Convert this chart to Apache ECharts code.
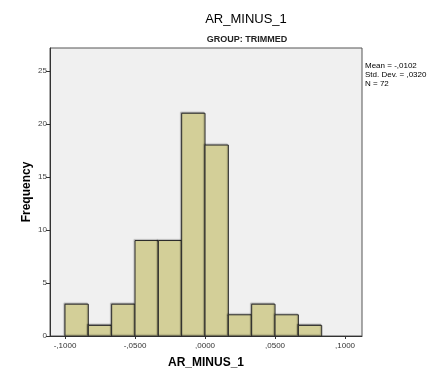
<!DOCTYPE html>
<html><head><meta charset="utf-8">
<script src="https://cdn.jsdelivr.net/npm/echarts@6/dist/echarts.min.js"></script>
<style>html,body{margin:0;padding:0;background:#fff}#c{width:441px;height:374px}</style>
</head><body><div id="c"></div>
<script>
const binStarts = [-0.1, -0.08333, -0.06667, -0.05, -0.03333, -0.01667, 0.0, 0.01667, 0.03333, 0.05, 0.06667];
const binEnds   = [-0.08333, -0.06667, -0.05, -0.03333, -0.01667, 0.0, 0.01667, 0.03333, 0.05, 0.06667, 0.08333];
const counts    = [3, 1, 3, 9, 9, 21, 18, 2, 3, 2, 1];
const xTickValues = [-0.1, -0.05, 0, 0.05, 0.1];
const xTickLabels = ['-,1000', '-,0500', ',0000', ',0500', ',1000'];
const yTickValues = [0, 5, 10, 15, 20, 25];
const statsText = ['Mean = -,0102', 'Std. Dev. = ,0320', 'N = 72'];

const font = 'Liberation Sans, Arial, sans-serif';
const chart = echarts.init(document.getElementById('c'));
const data = counts.map((c, i) => [binStarts[i], binEnds[i], c]);
chart.setOption({
  animation: false,
  title: [
    {text: 'AR_MINUS_1', left: 241, top: 8, textAlign: 'center',
     textStyle: {fontFamily: font, fontSize: 13, fontWeight: 'normal', color: '#000'}},
    {text: 'GROUP: TRIMMED', left: 242, top: 30, textAlign: 'center',
     textStyle: {fontFamily: font, fontSize: 9, fontWeight: 'bold', color: '#222'}}
  ],
  graphic: [{type: 'text', left: 365, top: 61,
    style: {text: statsText.join('\n'), fontFamily: font, fontSize: 8, lineHeight: 9, fill: '#000'}}],
  grid: {left: 50, right: 79, top: 48, bottom: 37, show: true, backgroundColor: '#f0f0f0', borderColor: '#555', borderWidth: 1},
  xAxis: {
    type: 'value', min: -0.1107, max: 0.1121,
    name: 'AR_MINUS_1', nameLocation: 'middle', nameGap: 21,
    nameTextStyle: {fontFamily: font, fontSize: 12, fontWeight: 'bold', color: '#000'},
    axisLine: {show: true, onZero: false, lineStyle: {color: '#333'}},
    axisTick: {show: true, length: 3, lineStyle: {color: '#333'},
      customValues: xTickValues},
    axisLabel: {customValues: xTickValues, fontFamily: font, fontSize: 8, color: '#333', margin: 6,
      formatter: v => { const i = xTickValues.findIndex(t => Math.abs(t - v) < 1e-9); return i >= 0 ? xTickLabels[i] : ''; }},
    splitLine: {show: false}
  },
  yAxis: {
    type: 'value', min: 0, max: 27.15,
    name: 'Frequency', nameLocation: 'middle', nameGap: 17, nameMoveOverlap: false,
    nameTextStyle: {fontFamily: font, fontSize: 12, fontWeight: 'bold', color: '#000'},
    axisLine: {show: true, onZero: false, lineStyle: {color: '#333'}},
    axisTick: {show: true, length: 4, lineStyle: {color: '#333'}, customValues: yTickValues},
    axisLabel: {customValues: yTickValues, fontFamily: font, fontSize: 8, color: '#444', margin: 3},
    splitLine: {show: false}
  },
  series: [{
    type: 'custom',
    data: data,
    encode: {x: [0, 1], y: 2},
    renderItem: (params, api) => {
      const p0 = api.coord([api.value(0), api.value(2)]);
      const p1 = api.coord([api.value(1), 0]);
      return {
        type: 'rect',
        shape: {x: p0[0], y: p0[1], width: p1[0] - p0[0], height: p1[1] - p0[1]},
        style: {fill: '#d3cf98', stroke: '#2a2a2a', lineWidth: 1,
          shadowColor: 'rgba(0,0,0,0.25)', shadowBlur: 1, shadowOffsetX: -1, shadowOffsetY: -1}
      };
    }
  }]
});
</script></body></html>
